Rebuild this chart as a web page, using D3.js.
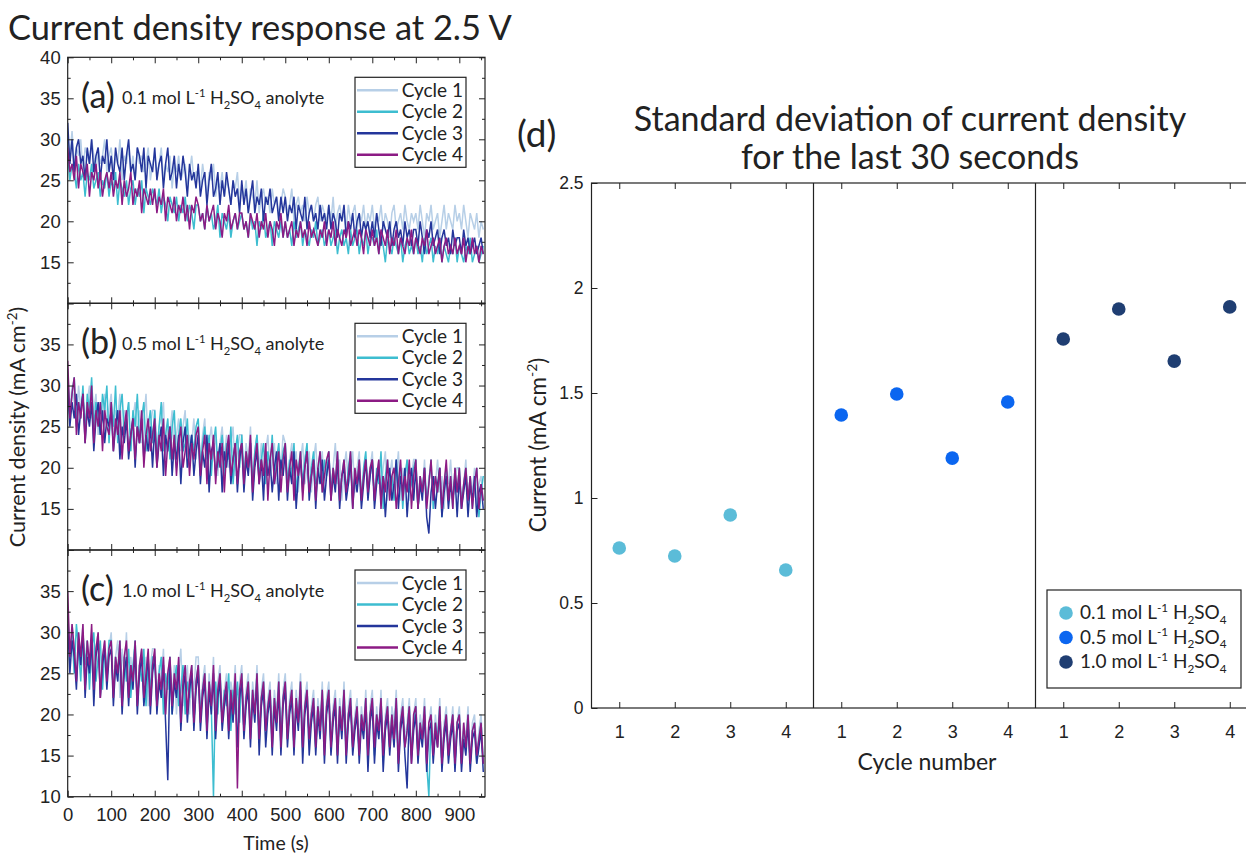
<!DOCTYPE html>
<html>
<head>
<meta charset="utf-8">
<script src="https://cdn.jsdelivr.net/npm/d3@7"></script>
<style>
  body { margin: 0; background: #fff; }
  svg text { fill: #222; }
</style>
</head>
<body>
<script>
// sampling step of the traces (s)
const timeStep = 5;

// (a) 0.1 mol/L, cycles 1-4
const a_cycle1 = [30,28,31,27,29,28,30,26,29,28,27,30,28,26,29,27,28,30,26,28,
29,26,28,27,30,25,28,27,29,26,28,25,29,27,28,26,27,29,25,27,
28,26,27,29,25,27,26,28,24,27,26,28,25,26,27,24,26,28,25,26,
26,24,27,25,23,26,25,27,23,25,24,26,23,25,24,22,25,24,26,22,
24,23,25,21,24,23,22,25,21,23,24,22,23,21,24,22,23,21,22,24,
23,21,22,24,20,22,23,21,22,20,23,21,22,20,22,23,20,22,21,20,
22,20,23,19,21,22,20,21,19,22,20,21,22,19,21,20,22,19,21,20,
22,19,21,20,22,19,21,20,18,21,22,19,20,21,19,22,20,19,21,20,
21,19,22,20,18,21,20,22,19,20,21,18,20,22,19,21,20,19,22,20,
21,19,22,20,18,21,20,19,21,18,20,19];
const a_cycle2 = [28,25,27,26,24,27,25,26,23,26,25,27,24,25,26,23,25,24,26,23,
25,24,26,22,25,24,23,25,22,24,25,22,24,23,25,21,24,23,22,24,
23,22,24,21,23,22,20,23,22,21,23,20,22,21,23,20,22,21,19,22,
22,20,21,19,22,20,21,19,20,22,18,21,20,19,21,18,20,21,19,20,
21,19,20,18,21,19,20,17,20,19,21,18,19,20,17,20,19,18,20,18,
20,18,19,17,20,18,19,20,17,19,18,17,19,18,20,17,18,19,17,18,
19,17,18,19,16,18,19,17,18,16,19,17,18,19,16,18,17,19,16,18,
18,17,19,16,18,17,15,18,17,16,18,17,16,18,15,17,18,16,17,16,
18,16,17,15,18,16,17,18,15,17,16,18,15,17,16,15,17,16,18,15,
17,16,15,17,16,18,15,16,17,15,16,17];
const a_cycle3 = [32,27,30,26,29,30,27,28,25,29,27,30,26,28,29,25,28,27,30,26,
28,25,29,27,26,29,25,28,30,26,27,25,29,28,26,29,24,28,27,26,
29,25,27,28,24,27,29,25,26,28,24,27,25,28,26,23,27,25,26,24,
27,23,25,26,22,25,27,23,24,26,22,25,23,26,24,22,25,23,24,21,
25,22,24,21,23,25,21,23,22,24,20,23,22,24,21,22,23,20,23,21,
23,20,22,21,23,19,22,21,20,23,19,21,22,20,21,19,22,20,21,19,
22,19,21,20,18,21,20,22,18,20,19,21,18,20,21,18,20,19,20,18,
20,18,21,19,17,20,19,18,20,17,19,20,18,19,17,20,18,19,17,19,
19,17,20,18,16,19,18,20,17,18,19,16,18,19,17,18,16,19,17,18,
18,16,19,17,18,16,17,18,16,17,18,16];
const a_cycle4 = [29,26,27,25,28,24,27,26,25,27,23,26,25,27,24,26,23,25,26,24,
26,23,25,24,26,22,25,23,24,26,22,24,23,25,21,24,23,22,24,22,
24,21,23,22,24,20,23,22,21,23,20,22,21,23,20,22,19,22,21,23,
22,20,21,19,22,20,21,22,19,21,20,18,21,20,22,19,20,21,19,21,
21,19,20,18,21,20,19,21,18,20,19,21,18,20,19,17,20,19,21,18,
20,18,19,20,17,19,18,20,18,19,17,20,18,19,18,17,19,18,20,17,
19,18,20,17,19,18,17,19,18,20,17,18,19,17,19,18,16,19,18,17,
19,17,18,16,19,18,17,19,16,18,17,19,16,18,17,16,18,17,19,16,
18,17,16,18,17,19,16,17,18,16,17,18,15,17,18,16,17,16,18,16,
17,16,18,15,17,16,18,16,17,15,17,16];

// (b) 0.5 mol/L
const b_cycle1 = [32,27,30,28,25,30,27,29,24,28,30,26,27,29,24,28,26,29,25,27,
29,24,27,26,29,23,27,25,28,22,26,28,24,27,23,26,29,22,25,27,
27,22,25,26,28,21,25,24,27,21,24,26,22,25,27,20,24,23,26,21,
25,21,24,26,20,23,25,22,24,19,23,25,21,24,20,23,25,19,22,24,
24,19,23,21,25,18,22,24,20,23,18,22,24,19,21,23,18,22,20,24,
23,18,21,23,19,22,17,21,23,18,20,22,17,21,23,18,20,22,17,21,
22,17,20,23,18,21,16,20,22,18,19,22,17,20,22,16,19,21,18,20,
22,16,19,21,17,20,22,16,19,21,17,19,22,16,20,18,21,16,19,21,
21,16,19,17,21,15,19,20,16,18,21,17,19,15,20,18,21,16,19,20,
20,16,18,21,15,19,17,20,15,18,19,16];
const b_cycle2 = [31,26,29,31,25,28,26,30,24,29,27,31,25,28,26,24,29,27,30,23,
28,25,30,23,27,29,24,26,28,22,27,25,29,23,26,28,22,25,27,23,
27,21,25,28,22,24,26,21,25,27,20,24,26,22,23,26,20,24,22,25,
26,20,23,25,21,24,19,23,25,20,22,24,19,23,21,25,18,22,24,20,
24,19,22,20,23,18,22,24,19,21,23,18,22,20,24,18,21,23,19,22,
23,18,21,19,23,17,20,22,18,21,23,17,20,22,18,19,22,17,21,19,
22,17,20,18,22,16,19,21,17,20,22,16,19,18,21,16,20,22,17,19,
21,16,20,18,22,15,19,21,17,19,16,21,18,20,15,19,21,17,18,20,
21,15,19,17,20,16,18,21,15,19,17,20,14,18,20,16,19,15,20,17,
20,15,18,20,16,19,15,18,20,14,17,19];
const b_cycle3 = [30,25,28,26,29,24,27,29,23,27,25,28,22,26,28,24,27,23,26,25,
27,22,25,27,21,25,23,26,21,24,26,20,25,23,26,21,24,22,25,20,
25,20,23,25,19,24,22,25,19,23,21,24,18,23,25,20,22,24,19,22,
24,18,22,20,24,17,22,23,19,21,23,17,22,20,23,18,21,23,17,21,
23,17,21,19,23,16,20,22,18,21,16,22,19,21,17,20,22,16,21,19,
22,16,20,18,22,15,19,21,17,20,22,16,19,21,15,20,18,21,16,19,
21,16,19,17,21,15,19,20,16,18,21,15,19,17,20,15,18,21,16,19,
21,15,18,20,16,19,14,18,20,16,18,21,15,19,17,20,14,18,20,16,
20,15,18,16,20,14,12,17,19,15,18,20,14,17,19,15,18,16,19,14,
19,15,17,19,14,18,16,19,14,17,18,15];
const b_cycle4 = [33,26,29,31,24,28,26,29,23,28,26,30,23,27,25,28,22,27,25,24,
28,22,26,24,27,21,25,27,22,24,26,21,25,23,27,20,24,26,22,24,
26,20,24,22,26,19,23,25,21,24,19,23,25,20,22,24,19,23,21,24,
25,19,22,24,18,23,21,24,18,22,20,23,17,22,24,19,21,23,18,22,
23,18,22,20,24,17,21,23,18,21,19,23,16,21,23,18,20,22,17,21,
23,17,20,22,16,21,19,22,16,20,22,17,19,21,16,20,22,17,19,21,
22,16,20,18,22,16,19,21,17,19,22,15,20,18,21,16,19,21,17,20,
21,16,19,21,15,19,17,21,16,19,20,15,18,21,16,19,17,21,15,19,
21,15,19,17,20,15,18,21,16,19,17,20,15,18,21,16,19,15,20,17,
20,15,18,20,16,19,15,18,20,15,18,16];

// (c) 1.0 mol/L
const c_cycle1 = [33,26,31,28,24,30,27,31,23,29,26,30,24,28,30,23,27,29,25,28,
30,23,27,29,22,28,25,30,22,27,24,29,21,26,28,23,27,21,26,28,
28,21,26,24,28,20,25,27,22,26,20,25,28,21,24,26,20,25,23,27,
27,20,24,26,19,25,22,27,19,24,26,20,23,25,19,24,22,26,18,24,
26,19,23,25,18,24,21,26,18,23,25,19,22,24,18,23,20,25,17,23,
25,18,22,24,17,23,20,25,17,22,24,18,21,23,17,22,19,24,16,22,
24,17,21,23,16,22,19,24,16,21,23,17,20,22,16,21,18,23,16,21,
23,16,21,18,23,15,20,22,16,21,19,23,15,20,22,17,19,22,15,20,
22,16,20,18,22,15,19,21,16,20,17,22,14,19,21,16,18,21,15,19,
21,15,19,17,21,14,19,20,15,18,20,14];
const c_cycle2 = [32,27,30,25,31,28,24,30,26,29,23,28,30,24,27,29,23,28,25,29,
29,22,27,25,29,21,27,24,28,22,26,29,21,26,24,28,21,26,23,27,
27,21,25,27,20,25,23,27,20,24,26,21,23,26,20,24,22,26,19,24,
26,20,23,25,19,24,21,10,24,20,25,19,23,21,25,18,23,20,24,19,
25,18,22,24,18,23,20,25,17,22,24,18,21,23,17,22,19,24,17,22,
24,17,21,23,16,22,19,24,16,21,23,17,20,22,16,21,18,23,16,21,
23,16,20,22,15,21,18,23,16,20,22,16,19,21,15,20,18,22,15,20,
22,15,20,18,22,15,19,21,16,20,17,22,14,19,21,16,18,21,15,19,
21,15,19,17,21,14,10,20,15,19,17,21,14,18,20,15,18,20,14,19,
20,14,18,16,20,14,18,19,14,17,19,14];
const c_cycle3 = [31,25,29,27,23,29,26,30,22,27,25,29,21,27,29,22,26,28,23,27,
28,21,26,24,28,20,25,27,21,26,23,28,20,25,27,21,24,27,20,25,
27,20,24,22,26,19,12,26,20,24,22,26,18,23,25,19,23,25,18,23,
25,18,22,24,17,23,20,25,17,22,24,18,21,23,17,22,19,24,16,22,
24,17,21,23,16,22,19,24,15,21,23,16,20,22,15,21,18,23,15,21,
23,16,20,22,15,21,18,23,14,20,22,15,19,21,15,20,17,22,14,20,
22,15,19,21,14,20,17,22,14,19,21,15,18,20,14,19,17,21,13,19,
21,14,19,17,21,13,18,20,15,19,16,21,13,18,20,15,11,20,14,18,
20,14,18,16,20,13,18,19,14,18,16,20,13,17,19,14,17,19,13,18,
19,13,17,15,19,13,17,18,14,16,18,13];
const c_cycle4 = [35,27,31,28,24,30,27,31,23,29,26,31,23,28,30,22,27,29,24,28,
29,22,27,25,29,21,27,29,22,26,24,29,21,26,28,22,25,28,21,26,
28,21,25,23,27,20,25,27,21,25,23,27,19,24,26,20,24,26,19,24,
26,19,23,25,18,24,21,26,18,23,25,19,22,24,18,23,20,25,11,23,
25,18,22,24,17,23,20,25,17,22,24,18,21,23,16,22,19,24,16,22,
24,17,21,23,16,22,19,24,16,21,23,17,20,22,16,21,18,23,15,21,
23,16,20,22,15,21,18,23,15,20,22,16,19,21,15,20,18,22,15,20,
22,16,20,18,22,15,19,21,16,20,17,22,14,19,21,16,18,21,14,20,
21,15,19,17,21,14,19,20,15,19,16,21,14,18,20,15,18,20,14,19,
20,14,19,16,20,14,18,19,15,17,19,14];

const cycleLabels = ["Cycle 1", "Cycle 2", "Cycle 3", "Cycle 4"];
const cycleColors = ["#b7cfe7", "#3dbdd0", "#24369b", "#8c1b84"];
const timeTicks = [0, 100, 200, 300, 400, 500, 600, 700, 800, 900];
const panelLetters = ["(a)", "(b)", "(c)"];
const concLabels = ["0.1", "0.5", "1.0"];

// (d) standard deviation of the last 30 s
const sd_01 = [0.762, 0.724, 0.919, 0.657];
const sd_05 = [1.395, 1.495, 1.19, 1.457];
const sd_10 = [1.757, 1.90, 1.652, 1.91];
const sdColors = ["#5bbcd8", "#0b66f0", "#1f3e72"];
const sdTicks = [0, 0.5, 1, 1.5, 2, 2.5];

const W = 1246, H = 855;
const svg = d3.select("body").append("svg")
  .attr("width", W).attr("height", H)
  .style("font-family", "Lato, 'Open Sans', sans-serif");
svg.append("rect").attr("width", W).attr("height", H).attr("fill", "#fff");

// text with sub/superscripts: parts = [[str, "n"|"sup"|"sub"], ...]
function richText(sel, parts, size) {
  let shift = 0;
  parts.forEach(p => {
    let dy = 0, fs = size;
    if (p[1] === "sup") { dy = -0.38 * size; fs = size * 0.62; }
    if (p[1] === "sub") { dy = 0.25 * size; fs = size * 0.62; }
    sel.append("tspan").attr("dy", dy - shift).attr("font-size", fs).text(p[0]);
    shift = dy;
  });
}
function concParts(c, tail) {
  return [[c + " mol L", "n"], ["-1", "sup"], [" H", "n"], ["2", "sub"], ["SO", "n"], ["4", "sub"], [tail, "n"]];
}

// ---------- left: time traces ----------
const x = d3.scaleLinear().domain([0, 959]).range([67.7, 485]);
const panels = [
  { top: 57.3, bottom: 303.3, series: [a_cycle1, a_cycle2, a_cycle3, a_cycle4], yTicks: [15, 20, 25, 30, 35, 40] },
  { top: 303.3, bottom: 550, series: [b_cycle1, b_cycle2, b_cycle3, b_cycle4], yTicks: [15, 20, 25, 30, 35] },
  { top: 550, bottom: 796.7, series: [c_cycle1, c_cycle2, c_cycle3, c_cycle4], yTicks: [10, 15, 20, 25, 30, 35] }
];

function styleAxis(g, fs) {
  g.select(".domain").remove();
  g.selectAll(".tick line").attr("stroke", "#222");
  g.selectAll("text").attr("font-size", fs).attr("fill", "#222");
}

panels.forEach((p, pi) => {
  const y = d3.scaleLinear().domain([10, 40]).range([p.bottom, p.top]);
  const g = svg.append("g");
  const clipId = "clip" + pi;
  g.append("clipPath").attr("id", clipId).append("rect")
    .attr("x", x.range()[0]).attr("y", p.top)
    .attr("width", x.range()[1] - x.range()[0]).attr("height", p.bottom - p.top);

  const line = d3.line().x((d, i) => x(i * timeStep)).y(d => y(d));
  g.append("g").attr("clip-path", "url(#" + clipId + ")")
    .selectAll("path").data(p.series).enter().append("path")
    .attr("d", line).attr("fill", "none")
    .attr("stroke", (d, i) => cycleColors[i]).attr("stroke-width", 1.5);

  // ticks, inward, all four sides
  const minorX = d3.range(50, 959, 100);
  const minorY = [12.5, 17.5, 22.5, 27.5, 32.5, 37.5];
  const majorY = [10, 15, 20, 25, 30, 35, 40];
  [[d3.axisBottom, p.bottom], [d3.axisTop, p.top]].forEach(([ax, yy]) => {
    g.append("g").attr("transform", `translate(0,${yy})`)
      .call(ax(x).tickValues(timeTicks).tickSize(-6).tickFormat("")).call(styleAxis, 18);
    g.append("g").attr("transform", `translate(0,${yy})`)
      .call(ax(x).tickValues(minorX).tickSize(-3).tickFormat("")).call(styleAxis, 18);
  });
  [[d3.axisLeft, x.range()[0]], [d3.axisRight, x.range()[1]]].forEach(([ax, xx]) => {
    g.append("g").attr("transform", `translate(${xx},0)`)
      .call(ax(y).tickValues(majorY).tickSize(-6).tickFormat("")).call(styleAxis, 18);
    g.append("g").attr("transform", `translate(${xx},0)`)
      .call(ax(y).tickValues(minorY).tickSize(-3).tickFormat("")).call(styleAxis, 18);
  });
  // tick labels
  g.append("g").attr("transform", `translate(${x.range()[0]},0)`)
    .call(d3.axisLeft(y).tickValues(p.yTicks).tickSize(0).tickPadding(7)).call(styleAxis, 18.5);
  if (pi === 2) {
    g.append("g").attr("transform", `translate(0,${p.bottom})`)
      .call(d3.axisBottom(x).tickValues(timeTicks).tickSize(0).tickPadding(11)).call(styleAxis, 18.5);
  }
  g.append("rect").attr("x", x.range()[0]).attr("y", p.top)
    .attr("width", x.range()[1] - x.range()[0]).attr("height", p.bottom - p.top)
    .attr("fill", "none").attr("stroke", "#222").attr("stroke-width", 1.2);

  // panel annotation
  g.append("text").attr("x", 81).attr("y", p.top + 51).attr("font-size", 34).text(panelLetters[pi]);
  richText(g.append("text").attr("x", 122).attr("y", p.top + 47), concParts(concLabels[pi], " anolyte"), 18);

  // legend
  const lg = g.append("g").attr("transform", `translate(355,${p.top + 20})`);
  lg.append("rect").attr("width", 111).attr("height", 90)
    .attr("fill", "#fff").attr("stroke", "#222").attr("stroke-width", 1.2);
  cycleLabels.forEach((lab, i) => {
    const yy = 13 + i * 21.5;
    lg.append("line").attr("x1", 2).attr("x2", 43).attr("y1", yy).attr("y2", yy)
      .attr("stroke", cycleColors[i]).attr("stroke-width", 2.6);
    lg.append("text").attr("x", 108).attr("y", yy + 6.5).attr("text-anchor", "end")
      .attr("font-size", 19).text(lab);
  });
});

svg.append("text").attr("x", 8).attr("y", 40).attr("font-size", 34.4)
  .text("Current density response at 2.5 V");
svg.append("text").attr("x", 276).attr("y", 850).attr("text-anchor", "middle")
  .attr("font-size", 19.5).text("Time (s)");
richText(svg.append("text").attr("transform", "translate(25,427) rotate(-90)").attr("text-anchor", "middle"),
  [["Current density (mA cm", "n"], ["-2", "sup"], [")", "n"]], 21.5);

// ---------- right: standard deviation ----------
const xd = d3.scaleLinear().domain([0.5, 12.5]).range([591.5, 1257.5]);
const yd = d3.scaleLinear().domain([0, 2.5]).range([708, 183]);
const gd = svg.append("g");
const cyclePos = d3.range(1, 13);

[[d3.axisBottom, yd(0)], [d3.axisTop, yd(2.5)]].forEach(([ax, yy]) => {
  gd.append("g").attr("transform", `translate(0,${yy})`)
    .call(ax(xd).tickValues(cyclePos).tickSize(-6).tickFormat("")).call(styleAxis, 17);
});
gd.append("g").attr("transform", `translate(${xd(0.5)},0)`)
  .call(d3.axisLeft(yd).tickValues(sdTicks).tickSize(-6).tickPadding(8).tickFormat(d3.format("~g"))).call(styleAxis, 17.5);
gd.append("g").attr("transform", `translate(0,${yd(0)})`)
  .call(d3.axisBottom(xd).tickValues(cyclePos).tickSize(0).tickPadding(17).tickFormat(d => ((d - 1) % 4) + 1)).call(styleAxis, 18);
gd.append("rect").attr("x", xd(0.5)).attr("y", yd(2.5))
  .attr("width", xd(12.5) - xd(0.5)).attr("height", yd(0) - yd(2.5))
  .attr("fill", "none").attr("stroke", "#222").attr("stroke-width", 1.2);
[4.5, 8.5].forEach(v => {
  gd.append("line").attr("x1", xd(v)).attr("x2", xd(v)).attr("y1", yd(0)).attr("y2", yd(2.5))
    .attr("stroke", "#222").attr("stroke-width", 1.2);
});

[sd_01, sd_05, sd_10].forEach((vals, gi) => {
  gd.append("g").selectAll("circle").data(vals).enter().append("circle")
    .attr("cx", (d, i) => xd(gi * 4 + i + 1)).attr("cy", d => yd(d))
    .attr("r", 6.8).attr("fill", sdColors[gi]);
});

// legend (d)
const ld = gd.append("g").attr("transform", "translate(1047,590)");
ld.append("rect").attr("width", 194).attr("height", 98)
  .attr("fill", "#fff").attr("stroke", "#222").attr("stroke-width", 1.2);
concLabels.forEach((c, i) => {
  const yy = 23 + i * 24.5;
  ld.append("circle").attr("cx", 19).attr("cy", yy).attr("r", 6.8).attr("fill", sdColors[i]);
  richText(ld.append("text").attr("x", 33).attr("y", yy + 6), concParts(c, ""), 19);
});

gd.append("text").attr("x", 517).attr("y", 147).attr("font-size", 37).text("(d)");
gd.append("text").attr("x", 910).attr("y", 131).attr("text-anchor", "middle").attr("font-size", 34)
  .text("Standard deviation of current density");
gd.append("text").attr("x", 910).attr("y", 169).attr("text-anchor", "middle").attr("font-size", 34)
  .text("for the last 30 seconds");
gd.append("text").attr("x", 927).attr("y", 770).attr("text-anchor", "middle").attr("font-size", 23)
  .text("Cycle number");
richText(gd.append("text").attr("transform", "translate(546,445) rotate(-90)").attr("text-anchor", "middle"),
  [["Current (mA cm", "n"], ["-2", "sup"], [")", "n"]], 22.5);
</script>
</body>
</html>
